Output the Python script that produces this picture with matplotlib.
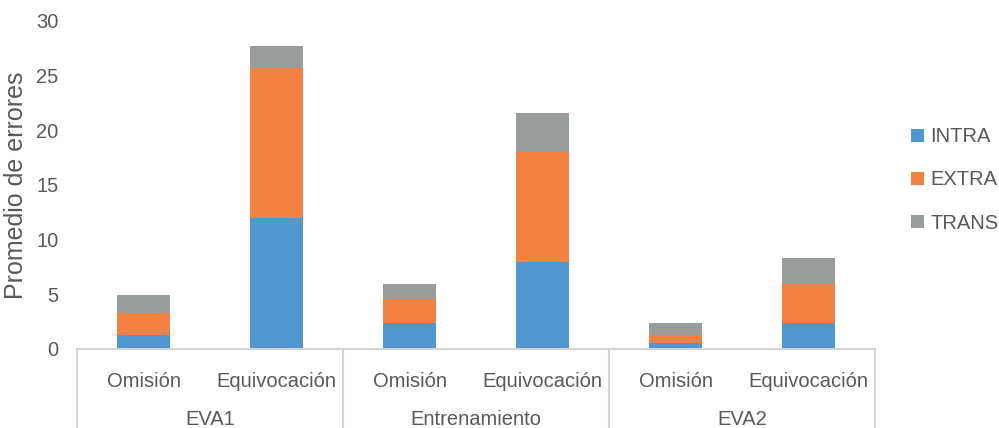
import matplotlib
matplotlib.use("Agg")
import matplotlib.pyplot as plt
import matplotlib.transforms as mtransforms
import numpy as np

plt.rcParams['font.family'] = ['Liberation Sans', 'DejaVu Sans']

groups = ["EVA1", "Entrenamiento", "EVA2"]
kinds = ["Omisión", "Equivocación"]
series = ["INTRA", "EXTRA", "TRANS"]
intra = [1.3, 12.0, 2.35, 7.95, 0.55, 2.35]
extra = [2.0, 13.7, 2.2, 10.05, 0.75, 3.6]
trans = [1.65, 2.0, 1.35, 3.6, 1.05, 2.4]
colors = ["#5096D1", "#F28244", "#999C9D"]
text_color = "#595959"
line_color = "#D3D3D3"
fs = 14.5

fig = plt.figure(figsize=(9.99, 4.28), dpi=100)
ax = fig.add_axes([77 / 999, 1 - 349 / 428, 798 / 999, 328.3 / 428])

x = np.arange(len(intra))
bottom = np.zeros(len(intra))
for name, vals, col in zip(series, [intra, extra, trans], colors):
    ax.bar(x, vals, 0.4, bottom=bottom, color=col, label=name, zorder=2)
    bottom += np.array(vals)

ax.set_xlim(-0.5, len(intra) - 0.5)
ax.set_ylim(0, 30)
ax.set_yticks(range(0, 31, 5))
ax.set_xticks(x)
ax.set_xticklabels(kinds * len(groups))
ax.tick_params(axis='both', length=0, labelsize=fs, colors=text_color)
ax.tick_params(axis='x', pad=16.5)
ax.tick_params(axis='y', pad=13.5)

for side in ["top", "right", "left"]:
    ax.spines[side].set_visible(False)
ax.spines["bottom"].set_color(line_color)
ax.spines["bottom"].set_linewidth(1.5)

ax.set_ylabel("Promedio de errores", fontsize=18, color=text_color, labelpad=6)

# group separators and group names below the category labels
trans_blend = mtransforms.blended_transform_factory(ax.transData, ax.transAxes)
for b in np.arange(-0.5, len(intra), 2):
    ax.plot([b, b], [0, -0.26], transform=trans_blend, color=line_color,
            lw=1.5, clip_on=False)
for i, g in enumerate(groups):
    ax.text(2 * i + 0.5, -0.215, g, transform=trans_blend, ha='center',
            va='center', fontsize=fs, color=text_color)

fig.legend(loc='center left', bbox_to_anchor=(911 / 999, 1 - 180 / 428),
           frameon=False, fontsize=fs, handlelength=0.65, handleheight=0.65,
           handletextpad=0.3, labelspacing=1.2, borderpad=0, borderaxespad=0,
           labelcolor=text_color)

fig.savefig("out.png", dpi=100)
